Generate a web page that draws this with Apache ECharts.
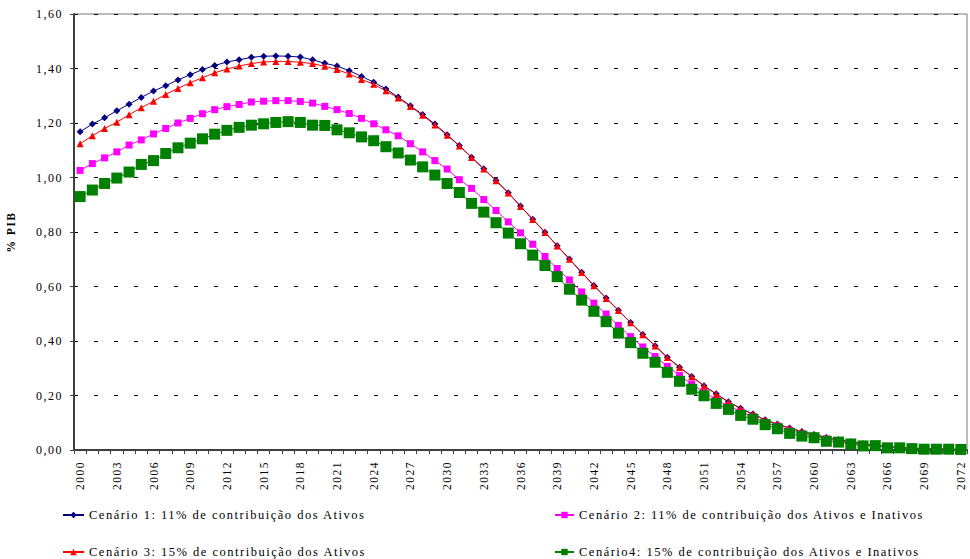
<!DOCTYPE html>
<html>
<head>
<meta charset="utf-8">
<script src="https://cdn.jsdelivr.net/npm/echarts@6/dist/echarts.min.js"></script>
<style>
  html, body { margin: 0; padding: 0; background: #fff; }
  #chart { width: 970px; height: 559px; }
  /* the labels are set with loose tracking */
  #chart svg text { letter-spacing: 1.5px; }
</style>
</head>
<body>
<div id="chart"></div>
<script>
// Years 2000..2072
const years = [];
for (let y = 2000; y <= 2072; y++) years.push(String(y));

const yTicks = [0, 0.2, 0.4, 0.6, 0.8, 1.0, 1.2, 1.4, 1.6];

const seriesNames = [
  'Cenário 1: 11% de contribuição dos Ativos',
  'Cenário 2: 11% de contribuição dos Ativos e Inativos',
  'Cenário 3: 15% de contribuição dos Ativos',
  'Cenário4: 15% de contribuição dos Ativos e Inativos'
];

const cenario1 = [
  1.168,1.196,1.219,1.245,1.269,1.294,1.317,1.337,1.358,1.377,1.396,1.411,1.424,1.432,1.441,1.445,1.446,1.445,1.442,1.432,1.419,
  1.409,1.392,1.371,1.350,1.325,1.295,1.263,1.231,1.196,1.157,1.117,
  1.074,1.032,0.989,0.944,0.895,0.847,0.799,0.750,0.701,0.652,0.604,0.558,0.513,
  0.468,0.424,0.383,0.340,0.304,0.270,0.236,0.206,0.177,0.153,0.132,0.111,0.095,0.081,0.068,0.057,0.046,0.038,0.030,0.023,0.018,0.013,0.010,0.007,0.005,0.004,0.003,0.002
];

const cenario2 = [
  1.026,1.051,1.072,1.094,1.119,1.138,1.160,1.180,1.200,1.217,1.234,1.249,1.260,1.268,1.277,1.280,1.282,1.282,1.279,1.273,1.261,
  1.249,1.235,1.217,1.197,1.175,1.153,1.124,1.094,1.062,1.031,0.992,
  0.960,0.919,0.879,0.837,0.797,0.755,0.710,0.666,0.624,0.580,0.539,0.499,0.457,
  0.416,0.378,0.343,0.307,0.274,0.242,0.213,0.184,0.162,0.141,0.122,0.100,0.088,0.072,0.060,0.050,0.041,0.033,0.026,0.020,0.015,0.011,0.008,0.006,0.004,0.003,0.002,0.002
];

const cenario3 = [
  1.124,1.153,1.180,1.203,1.230,1.256,1.280,1.305,1.327,1.348,1.366,1.384,1.398,1.409,1.418,1.424,1.426,1.426,1.423,1.418,1.408,
  1.396,1.380,1.360,1.342,1.318,1.292,1.261,1.228,1.193,1.155,1.116,
  1.073,1.031,0.988,0.943,0.894,0.846,0.798,0.749,0.700,0.651,0.603,0.556,0.512,
  0.467,0.423,0.382,0.339,0.303,0.269,0.235,0.205,0.176,0.152,0.131,0.110,0.094,0.080,0.067,0.056,0.045,0.037,0.029,0.022,0.017,0.012,0.009,0.006,0.004,0.003,0.002,0.001
];

const cenario4 = [
  0.930,0.954,0.978,0.998,1.020,1.048,1.062,1.088,1.109,1.126,1.142,1.159,1.173,1.184,1.192,1.197,1.202,1.205,1.202,1.192,1.191,
  1.175,1.164,1.149,1.135,1.113,1.090,1.064,1.039,1.009,0.978,0.945,
  0.905,0.873,0.834,0.796,0.757,0.715,0.677,0.636,0.590,0.550,0.509,0.471,0.429,
  0.394,0.355,0.322,0.285,0.252,0.223,0.199,0.171,0.149,0.127,0.113,0.093,0.078,0.061,0.051,0.045,0.032,0.029,0.022,0.015,0.016,0.008,0.008,0.005,0.003,0.003,0.003,0.002
];

const FONT = '"Liberation Serif", "Times New Roman", serif';

function lineSeries(name, data, color, symbol, size) {
  return {
    name: name,
    type: 'line',
    data: data,
    symbol: symbol,
    symbolSize: size,
    showAllSymbol: true,
    lineStyle: { color: color, width: 1 },
    itemStyle: { color: color },
    emphasis: { disabled: true },
    animation: false
  };
}

// one legend entry per slot: two columns, two rows
function legendEntry(name, left, top, width) {
  return {
    left: left, top: top, padding: 0,
    itemWidth: width, itemHeight: 8,
    selectedMode: false,
    textStyle: { fontFamily: FONT, fontSize: 12.5, color: '#000', lineHeight: 14 },
    data: [name]
  };
}

const chart = echarts.init(document.getElementById('chart'), null, { renderer: 'svg' });

chart.setOption({
  backgroundColor: '#ffffff',
  animation: false,
  textStyle: { fontFamily: FONT },
  grid: {
    left: 74, right: 3, top: 14, bottom: 109,
    outerBoundsMode: 'none',
    containLabel: false,
    show: true, borderColor: '#777', borderWidth: 1, backgroundColor: 'transparent'
  },
  legend: [
    legendEntry(seriesNames[0], 62, 508, 21),
    legendEntry(seriesNames[2], 62, 545, 21),
    legendEntry(seriesNames[1], 554, 508, 19),
    legendEntry(seriesNames[3], 554, 545, 19)
  ],
  xAxis: {
    type: 'category',
    data: years,
    boundaryGap: true,
    axisLine: { lineStyle: { color: '#404040', width: 2 } },
    axisTick: { show: true, interval: 0, length: 4, lineStyle: { color: '#404040' } },
    axisLabel: {
      interval: 2, rotate: 90, margin: 11,
      fontFamily: FONT, fontSize: 11.5, color: '#000'
    },
    splitLine: { show: false }
  },
  yAxis: {
    type: 'value',
    min: yTicks[0], max: yTicks[yTicks.length - 1], interval: 0.2,
    name: '% PIB',
    nameLocation: 'middle',
    nameGap: 57,
    nameRotate: 90,
    nameTextStyle: { fontFamily: FONT, fontSize: 11.5, fontWeight: 'bold', color: '#000' },
    axisLine: { show: true, lineStyle: { color: '#404040', width: 2 } },
    axisTick: { show: true, length: 4, lineStyle: { color: '#404040' } },
    axisLabel: {
      fontFamily: FONT, fontSize: 12, color: '#000', margin: 11,
      formatter: v => v.toFixed(2).replace('.', ',')
    },
    splitLine: { show: true, lineStyle: { color: '#000', width: 1, type: [4, 16] } }
  },
  series: [
    lineSeries(seriesNames[0], cenario1, '#000080', 'diamond', 7),
    lineSeries(seriesNames[1], cenario2, '#FF00FF', 'rect', 7),
    lineSeries(seriesNames[2], cenario3, '#FF0000', 'triangle', 7),
    lineSeries(seriesNames[3], cenario4, '#008000', 'rect', 11)
  ]
});
</script>
</body>
</html>
